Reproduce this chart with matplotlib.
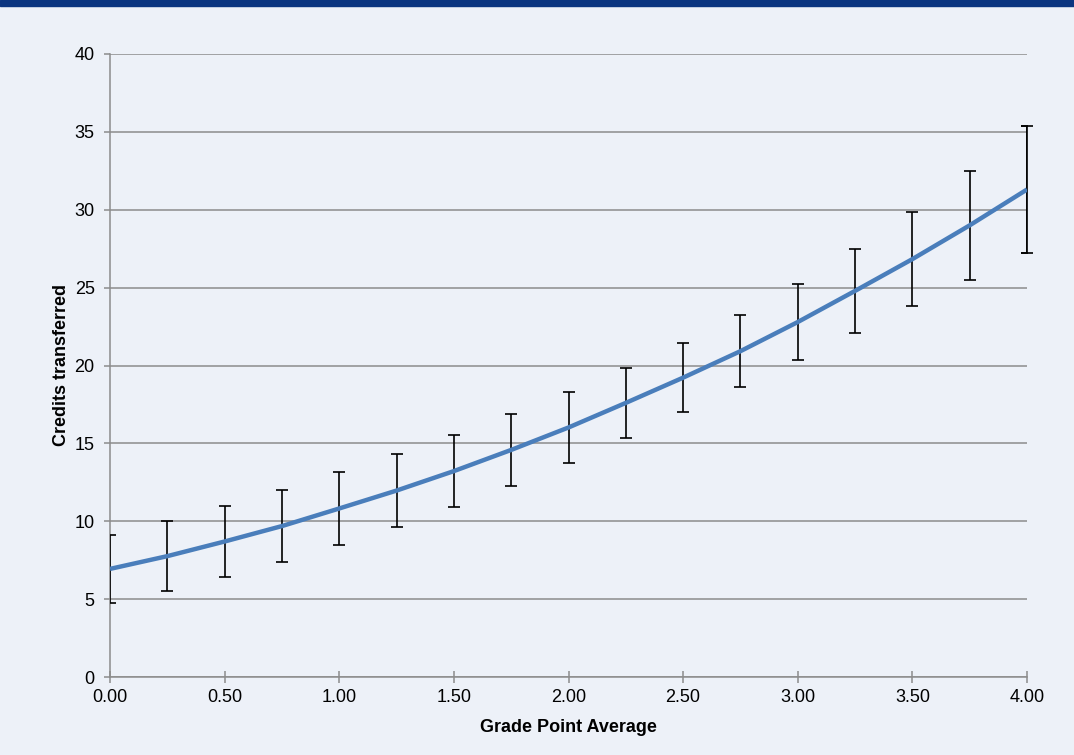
import numpy as np
import matplotlib
matplotlib.use("Agg")
import matplotlib.pyplot as plt
from matplotlib.patches import Rectangle

# data
gpa = [0.00, 0.25, 0.50, 0.75, 1.00, 1.25, 1.50, 1.75, 2.00,
       2.25, 2.50, 2.75, 3.00, 3.25, 3.50, 3.75, 4.00]
credits = [6.94, 7.76, 8.70, 9.69, 10.82, 11.97, 13.22, 14.58, 16.02,
           17.60, 19.22, 20.92, 22.79, 24.79, 26.83, 29.00, 31.30]
upper = [9.12, 10.00, 10.98, 12.00, 13.16, 14.30, 15.54, 16.90, 18.30,
         19.84, 21.44, 23.24, 25.23, 27.48, 29.86, 32.50, 35.35]
lower = [4.75, 5.52, 6.42, 7.38, 8.48, 9.63, 10.90, 12.26, 13.74,
         15.35, 17.00, 18.60, 20.35, 22.10, 23.80, 25.49, 27.24]
xticks = [0, 0.5, 1.0, 1.5, 2.0, 2.5, 3.0, 3.5, 4.0]
xlabels = ["0.00", "0.50", "1.00", "1.50", "2.00", "2.50", "3.00", "3.50", "4.00"]
yticks = [0, 5, 10, 15, 20, 25, 30, 35, 40]

plt.rcParams['font.family'] = ['Liberation Sans', 'DejaVu Sans']
bg = '#edf1f8'
grey = '#8c8c8c'

fig = plt.figure(figsize=(10.74, 7.55), dpi=100, facecolor=bg)
ax = fig.add_axes([110/1074, 78/755, 917/1074, 623/755])
ax.set_facecolor(bg)

# dark band across the top
fig.patches.append(Rectangle((0, 1 - 6/755), 1, 6/755, transform=fig.transFigure,
                             color='#0b3580', zorder=0))

c = np.array(credits)
yerr = [c - np.array(lower), np.array(upper) - c]
ax.errorbar(gpa, credits, yerr=yerr, fmt='none', ecolor='black',
            elinewidth=1.2, capsize=4, capthick=1.2, zorder=3)
# last cap is not clipped in the original
ax.errorbar(gpa[-1:], credits[-1:], yerr=[yerr[0][-1:], yerr[1][-1:]], fmt='none',
            ecolor='black', elinewidth=1.2, capsize=4, capthick=1.2, zorder=3,
            clip_on=False)
ax.plot(gpa, credits, color='#4a7ebb', lw=3.2, zorder=4, solid_capstyle='butt')

ax.set_xlim(0, 4)
ax.set_ylim(0, 40)
ax.set_xticks(xticks)
ax.set_xticklabels(xlabels)
ax.set_yticks(yticks)
ax.yaxis.grid(True, color=grey, lw=1.1)
ax.set_axisbelow(True)

for s in ['top', 'right']:
    ax.spines[s].set_visible(False)
for s in ['left', 'bottom']:
    ax.spines[s].set_color(grey)
    ax.spines[s].set_linewidth(1.1)

ax.tick_params(axis='y', direction='out', length=4, width=1.1, color=grey,
               labelsize=13, pad=7)
ax.tick_params(axis='x', direction='inout', length=8, width=1.1, color=grey,
               labelsize=13, pad=5)

ax.set_xlabel("Grade Point Average", fontsize=13, fontweight='bold', labelpad=9)
ax.set_ylabel("Credits transferred", fontsize=13, fontweight='bold', labelpad=3)

fig.savefig("out.png", dpi=100, facecolor=bg)
